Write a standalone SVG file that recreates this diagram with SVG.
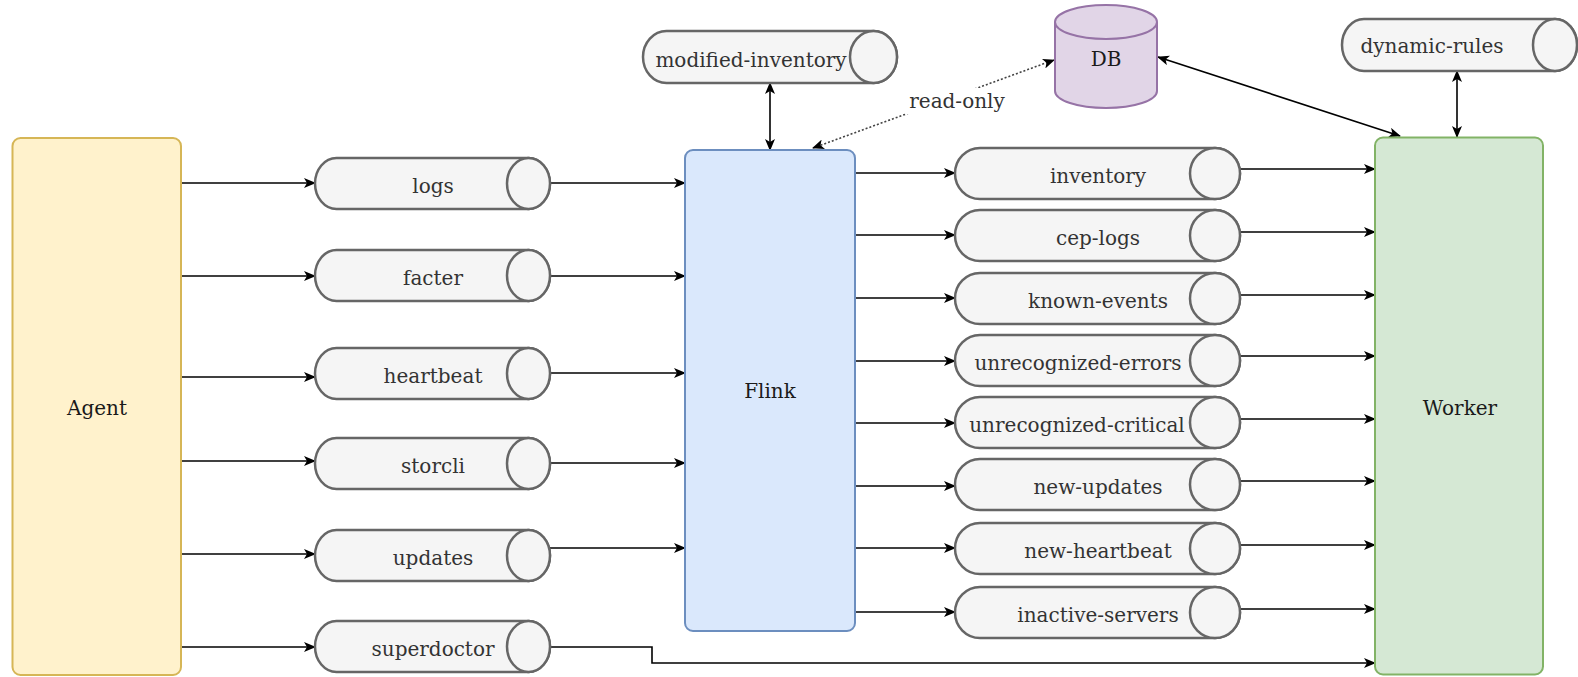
<svg xmlns="http://www.w3.org/2000/svg" width="1578" height="677" viewBox="0 0 1578 677">
<defs>
<marker id="ah" viewBox="0 0 12 10" refX="11" refY="5" markerWidth="12" markerHeight="10" markerUnits="userSpaceOnUse" orient="auto-start-reverse">
<path d="M0,0 L12,5 L0,10 L3,5 Z" fill="#000"/>
</marker>
<style>
text{font-family:"DejaVu Serif","Liberation Serif",serif;font-size:20px;text-anchor:middle}
.cyl{fill:#f5f5f5;stroke:#666666;stroke-width:2.5}
.ct{fill:#333333}
.nt{fill:#1a1a1a}
.e{fill:none;stroke:#000;stroke-width:1.6;marker-end:url(#ah)}
.b{fill:none;stroke:#000;stroke-width:1.6;marker-end:url(#ah);marker-start:url(#ah)}
.d{fill:none;stroke:#444;stroke-width:1.6;stroke-dasharray:2 2;marker-end:url(#ah);marker-start:url(#ah)}
</style>
</defs>
<rect width="1578" height="677" fill="#ffffff"/>

<g id="connectors">
<path class="e" d="M181,183 H315"/>
<path class="e" d="M181,276 H315"/>
<path class="e" d="M181,377 H315"/>
<path class="e" d="M181,461 H315"/>
<path class="e" d="M181,554 H315"/>
<path class="e" d="M181,647 H315"/>
<path class="e" d="M550,183 H685"/>
<path class="e" d="M550,276 H685"/>
<path class="e" d="M550,373 H685"/>
<path class="e" d="M550,463 H685"/>
<path class="e" d="M550,548 H685"/>
<path class="e" d="M550,647 H652 V663 H1375"/>
<path class="e" d="M855,173 H955"/>
<path class="e" d="M855,235 H955"/>
<path class="e" d="M855,298 H955"/>
<path class="e" d="M855,361 H955"/>
<path class="e" d="M855,423 H955"/>
<path class="e" d="M855,486 H955"/>
<path class="e" d="M855,548 H955"/>
<path class="e" d="M855,612 H955"/>
<path class="e" d="M1240,169 H1375"/>
<path class="e" d="M1240,232 H1375"/>
<path class="e" d="M1240,295 H1375"/>
<path class="e" d="M1240,356 H1375"/>
<path class="e" d="M1240,419 H1375"/>
<path class="e" d="M1240,481 H1375"/>
<path class="e" d="M1240,545 H1375"/>
<path class="e" d="M1240,609 H1375"/>
<path class="b" d="M770,83 V150"/>
<path class="b" d="M1457,71 V137"/>
<path class="b" d="M1158,57 L1400,136"/>
<path class="d" d="M813,148 L1054,60"/>
<rect x="906" y="88" width="102" height="26" fill="#ffffff"/>
<text x="957" y="108" class="ct">read-only</text>
</g>

<g id="agent">
<rect x="12.5" y="138" width="168.5" height="537" rx="8" fill="#fff2cc" stroke="#d6b656" stroke-width="2"/>
<text x="97" y="415" class="nt">Agent</text>
</g>
<g id="flink">
<rect x="685" y="150" width="170" height="481" rx="8" fill="#dae8fc" stroke="#6c8ebf" stroke-width="2"/>
<text x="770" y="398" class="nt">Flink</text>
</g>
<g id="worker">
<rect x="1375" y="137.5" width="168" height="537" rx="8" fill="#d5e8d4" stroke="#82b366" stroke-width="2"/>
<text x="1460" y="415" class="nt">Worker</text>
</g>
<g id="db">
<path d="M1055,22 A51,17 0 0 1 1157,22 V91 A51,17 0 0 1 1055,91 Z" fill="#e1d5e7" stroke="#9673a6" stroke-width="2"/>
<path d="M1055,22 A51,17 0 0 0 1157,22" fill="none" stroke="#9673a6" stroke-width="2"/>
<text x="1106" y="66" class="nt">DB</text>
</g>

<g id="modified-inventory">
<path class="cyl" d="M666.5,31 H873.5 A23.5,26 0 0 1 873.5,83 H666.5 A23.5,26 0 0 1 666.5,31 Z"/>
<ellipse class="cyl" cx="873.5" cy="57" rx="23.5" ry="26"/>
<text x="751" y="67" class="ct">modified-inventory</text>
</g>
<g id="dynamic-rules">
<path class="cyl" d="M1364,19 H1555 A22,26 0 0 1 1555,71 H1364 A22,26 0 0 1 1364,19 Z"/>
<ellipse class="cyl" cx="1555" cy="45" rx="22" ry="26"/>
<text x="1432" y="53" class="ct">dynamic-rules</text>
</g>

<g id="logs">
<path class="cyl" d="M336.5,158 H528.5 A21.5,25.5 0 0 1 528.5,209 H336.5 A21.5,25.5 0 0 1 336.5,158 Z"/>
<ellipse class="cyl" cx="528.5" cy="183.5" rx="21.5" ry="25.5"/>
<text x="433" y="193" class="ct">logs</text>
</g>
<g id="facter">
<path class="cyl" d="M336.5,250 H528.5 A21.5,25.5 0 0 1 528.5,301 H336.5 A21.5,25.5 0 0 1 336.5,250 Z"/>
<ellipse class="cyl" cx="528.5" cy="275.5" rx="21.5" ry="25.5"/>
<text x="433" y="285" class="ct">facter</text>
</g>
<g id="heartbeat">
<path class="cyl" d="M336.5,348 H528.5 A21.5,25.5 0 0 1 528.5,399 H336.5 A21.5,25.5 0 0 1 336.5,348 Z"/>
<ellipse class="cyl" cx="528.5" cy="373.5" rx="21.5" ry="25.5"/>
<text x="433" y="383" class="ct">heartbeat</text>
</g>
<g id="storcli">
<path class="cyl" d="M336.5,438 H528.5 A21.5,25.5 0 0 1 528.5,489 H336.5 A21.5,25.5 0 0 1 336.5,438 Z"/>
<ellipse class="cyl" cx="528.5" cy="463.5" rx="21.5" ry="25.5"/>
<text x="433" y="473" class="ct">storcli</text>
</g>
<g id="updates">
<path class="cyl" d="M336.5,530 H528.5 A21.5,25.5 0 0 1 528.5,581 H336.5 A21.5,25.5 0 0 1 336.5,530 Z"/>
<ellipse class="cyl" cx="528.5" cy="555.5" rx="21.5" ry="25.5"/>
<text x="433" y="565" class="ct">updates</text>
</g>
<g id="superdoctor">
<path class="cyl" d="M336.5,621 H528.5 A21.5,25.5 0 0 1 528.5,672 H336.5 A21.5,25.5 0 0 1 336.5,621 Z"/>
<ellipse class="cyl" cx="528.5" cy="646.5" rx="21.5" ry="25.5"/>
<text x="433" y="656" class="ct">superdoctor</text>
</g>

<g id="inventory">
<path class="cyl" d="M980,148 H1215 A25,25.5 0 0 1 1215,199 H980 A25,25.5 0 0 1 980,148 Z"/>
<ellipse class="cyl" cx="1215" cy="173.5" rx="25" ry="25.5"/>
<text x="1098" y="183" class="ct">inventory</text>
</g>
<g id="cep-logs">
<path class="cyl" d="M980,210 H1215 A25,25.5 0 0 1 1215,261 H980 A25,25.5 0 0 1 980,210 Z"/>
<ellipse class="cyl" cx="1215" cy="235.5" rx="25" ry="25.5"/>
<text x="1098" y="245" class="ct">cep-logs</text>
</g>
<g id="known-events">
<path class="cyl" d="M980,273 H1215 A25,25.5 0 0 1 1215,324 H980 A25,25.5 0 0 1 980,273 Z"/>
<ellipse class="cyl" cx="1215" cy="298.5" rx="25" ry="25.5"/>
<text x="1098" y="308" class="ct">known-events</text>
</g>
<g id="unrecognized-errors">
<path class="cyl" d="M980,335 H1215 A25,25.5 0 0 1 1215,386 H980 A25,25.5 0 0 1 980,335 Z"/>
<ellipse class="cyl" cx="1215" cy="360.5" rx="25" ry="25.5"/>
<text x="1078" y="370" class="ct">unrecognized-errors</text>
</g>
<g id="unrecognized-critical">
<path class="cyl" d="M980,397 H1215 A25,25.5 0 0 1 1215,448 H980 A25,25.5 0 0 1 980,397 Z"/>
<ellipse class="cyl" cx="1215" cy="422.5" rx="25" ry="25.5"/>
<text x="1077" y="432" class="ct">unrecognized-critical</text>
</g>
<g id="new-updates">
<path class="cyl" d="M980,459 H1215 A25,25.5 0 0 1 1215,510 H980 A25,25.5 0 0 1 980,459 Z"/>
<ellipse class="cyl" cx="1215" cy="484.5" rx="25" ry="25.5"/>
<text x="1098" y="494" class="ct">new-updates</text>
</g>
<g id="new-heartbeat">
<path class="cyl" d="M980,523 H1215 A25,25.5 0 0 1 1215,574 H980 A25,25.5 0 0 1 980,523 Z"/>
<ellipse class="cyl" cx="1215" cy="548.5" rx="25" ry="25.5"/>
<text x="1098" y="558" class="ct">new-heartbeat</text>
</g>
<g id="inactive-servers">
<path class="cyl" d="M980,587 H1215 A25,25.5 0 0 1 1215,638 H980 A25,25.5 0 0 1 980,587 Z"/>
<ellipse class="cyl" cx="1215" cy="612.5" rx="25" ry="25.5"/>
<text x="1098" y="622" class="ct">inactive-servers</text>
</g>
</svg>
